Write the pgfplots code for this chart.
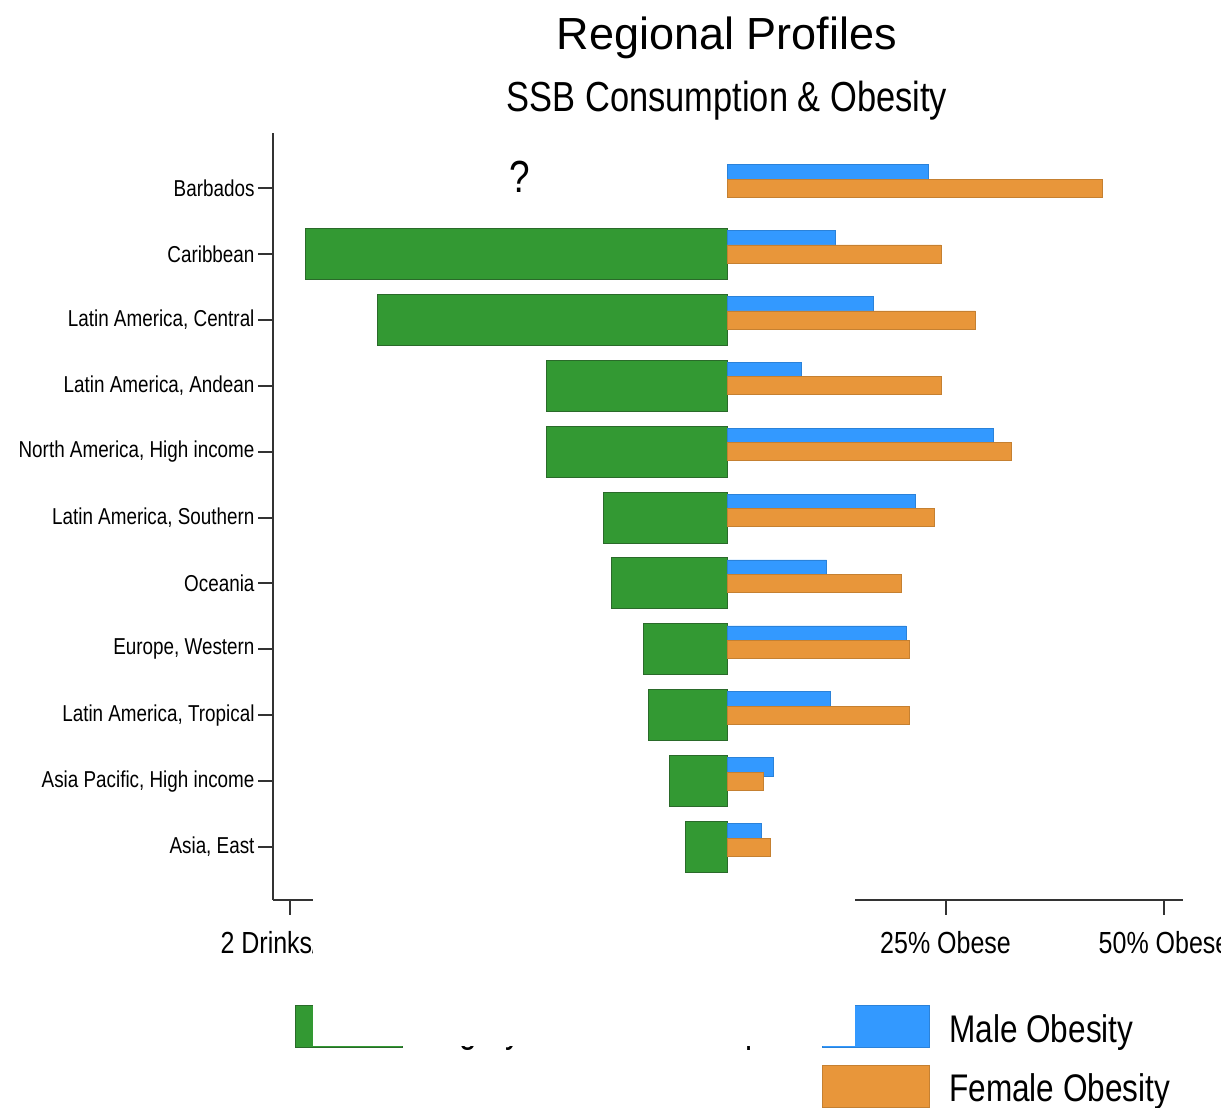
\documentclass[border=0pt]{standalone}
\usepackage{pgfplots}
\pgfplotsset{compat=1.18}
\usepackage{fontspec}
\setmainfont{Liberation Sans}
\newfontfamily\narrow[FakeStretch=0.82]{Liberation Sans}
\definecolor{sgreen}{HTML}{339933}
\definecolor{sgreenedge}{HTML}{2A6A2A}
\definecolor{mblue}{HTML}{3399FF}
\definecolor{forange}{HTML}{E8963A}
\definecolor{axgray}{HTML}{333333}
\begin{document}
\begin{tikzpicture}[x=1pt,y=1pt]
\path[use as bounding box] (0,0) rectangle (1221,1108);
\begin{scope}
\clip (0,0) rectangle (1221,1108);
\begin{axis}[
  at={(273pt,208pt)}, anchor=south west,
  scale only axis, width=910pt, height=767pt,
  xmin=-51.95, xmax=52.17, ymin=-0.804, ymax=10.835,
  axis x line*=bottom, axis y line*=left,
  axis line style={-, draw=axgray, line width=2pt},
  tick align=outside, major tick length=15pt,
  tick style={draw=axgray, line width=2pt},
  xtick={-50,-25,0,25,50},
  xticklabels={2 Drinks/day, 1 Drink/day, 0, 25\% Obese, 50\% Obese},
  ytick={0,1,2,3,4,5,6,7,8,9,10},
  yticklabels={{Asia, East},{Asia Pacific, High income},{Latin America, Tropical},{Europe, Western},{Oceania},{Latin America, Southern},{North America, High income},{Latin America, Andean},{Latin America, Central},{Caribbean},{Barbados}},
  yticklabel style={font=\narrow\fontsize{23}{27}\selectfont, text=black},
  xticklabel style={font=\narrow\fontsize{30.5}{34}\selectfont, text=black, yshift=-13pt},
  clip=false,
]
\addplot[xbar, bar shift=0pt, bar width=51pt, fill=sgreen, draw=sgreenedge, line width=1pt]
  coordinates {(-48.2,9) (-40.0,8) (-20.6,7) (-20.6,6) (-14.1,5) (-13.2,4) (-9.6,3) (-9.0,2) (-6.6,1) (-4.8,0)};
\addplot[xbar, bar shift=0pt, bar width=19pt, fill=mblue, draw=mblue!85!black, line width=0.6pt]
  coordinates {(23.0,10.212) (12.4,9.212) (16.7,8.212) (8.5,7.212) (30.5,6.212) (21.5,5.212) (11.4,4.212) (20.5,3.212) (11.8,2.212) (5.3,1.212) (3.9,0.212)};
\addplot[xbar, bar shift=0pt, bar width=18pt, fill=forange, draw=forange!85!black, line width=0.6pt]
  coordinates {(42.9,10) (24.5,9) (28.4,8) (24.5,7) (32.5,6) (23.7,5) (19.9,4) (20.9,3) (20.8,2) (4.2,1) (4.9,0)};
\node[font=\narrow\fontsize{45}{50}\selectfont] at (axis cs:-23.74,10.175) {?};
\end{axis}
% titles
\node[font=\fontsize{45}{50}\selectfont, anchor=base] at (727,1058) {Regional Profiles};
\node[font=\narrow\fontsize{42}{46}\selectfont, anchor=base] at (727,996) {SSB Consumption \& Obesity};
% legend
\filldraw[fill=sgreen, draw=sgreenedge, line width=1pt] (295,60) rectangle (402,102);
\node[font=\narrow\fontsize{38.5}{42}\selectfont, anchor=base west, inner sep=0pt] at (421,65) {Sugary Drinks Consumption};
\filldraw[fill=mblue, draw=mblue!85!black, line width=1pt] (822,60) rectangle (929,102);
\node[font=\narrow\fontsize{38.5}{42}\selectfont, anchor=base west, inner sep=0pt] at (949,65) {Male Obesity};
\filldraw[fill=forange, draw=forange!85!black, line width=1pt] (822,0) rectangle (929,42);
\node[font=\narrow\fontsize{38.5}{42}\selectfont, anchor=base west, inner sep=0pt] at (949,6) {Female Obesity};
% occluding white patch
\fill[white] (313,61.5) rectangle (855,215);
\end{scope}
\end{tikzpicture}
\end{document}
